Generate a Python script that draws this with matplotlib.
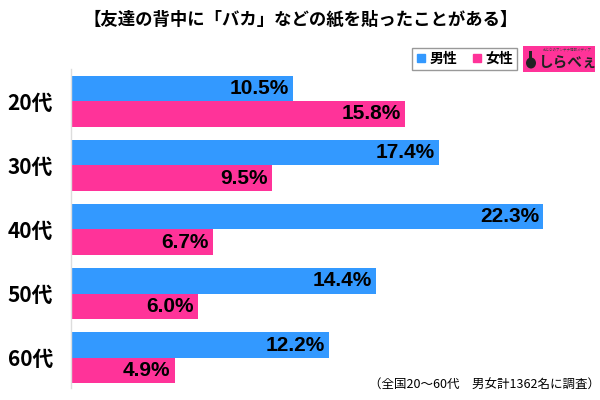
import matplotlib
matplotlib.use("Agg")
import matplotlib.pyplot as plt
from matplotlib.lines import Line2D
from matplotlib.patches import Rectangle, Ellipse
import numpy as np

plt.rcParams['font.family'] = ['Noto Sans CJK JP', 'DejaVu Sans']

categories = ['20代', '30代', '40代', '50代', '60代']
male = [10.5, 17.4, 22.3, 14.4, 12.2]
female = [15.8, 9.5, 6.7, 6.0, 4.9]
series_names = ['男性', '女性']
title = '【友達の背中に「バカ」などの紙を貼ったことがある】'
note = '（全国20～60代　男女計1362名に調査）'

BLUE = '#3399FF'
PINK = '#FF3399'

fig = plt.figure(figsize=(6, 4), dpi=100)
ax = fig.add_axes([71/600, 12/400, 520/600, 319/400])

y = np.arange(len(categories))
h = 0.397
ax.barh(y - h/2, male, height=h, color=BLUE, linewidth=0)
ax.barh(y + h/2, female, height=h, color=PINK, linewidth=0)

ax.set_xlim(0, 520/21.17)
ax.set_ylim(4.47, -0.5)
for s in ['top', 'right', 'bottom']:
    ax.spines[s].set_visible(False)
ax.spines['left'].set_color('#DDDDDD')
ax.spines['left'].set_linewidth(1)
ax.set_xticks([])
ax.set_yticks(y)
ax.set_yticklabels(categories, fontsize=15, fontweight='bold')
ax.tick_params(axis='y', length=0, pad=13)

for yi, v in zip(y, male):
    ax.annotate(f'{v:.1f}%', (v, yi - h/2), xytext=(-3, 0), textcoords='offset points',
                ha='right', va='center', fontsize=15, fontweight='bold',
                family=['Liberation Sans', 'DejaVu Sans'], color='black')
for yi, v in zip(y, female):
    ax.annotate(f'{v:.1f}%', (v, yi + h/2), xytext=(-3, 0), textcoords='offset points',
                ha='right', va='center', fontsize=15, fontweight='bold',
                family=['Liberation Sans', 'DejaVu Sans'], color='black')

fig.text(301/600, 1 - 20/400, title, ha='center', va='center', fontsize=12.5, fontweight='bold')

handles = [Line2D([], [], marker='s', linestyle='none', color=BLUE, markersize=6),
           Line2D([], [], marker='s', linestyle='none', color=PINK, markersize=6)]
leg = fig.legend(handles, series_names, loc='center', bbox_to_anchor=(464.5/600, 1 - 59/400),
                 ncol=2, frameon=True, fancybox=False, edgecolor='#999999', framealpha=1,
                 prop={'family': 'Noto Sans CJK JP', 'weight': 'bold', 'size': 10},
                 handlelength=0.8, handletextpad=0.2, columnspacing=1.0, borderpad=0.3)
leg.get_frame().set_linewidth(1)

# logo
fig.patches.append(Rectangle((523/600, 1 - 72/400), 72/600, 26/400, transform=fig.transFigure,
                             facecolor=PINK, edgecolor='none'))
fig.patches.append(Ellipse((531/600, 1 - 63/400), 10/600, 11/400, transform=fig.transFigure,
                           facecolor='#222222', edgecolor='none'))
fig.patches.append(Rectangle((529/600, 1 - 60/400), 3/600, 9/400, transform=fig.transFigure,
                             facecolor='#222222', edgecolor='none'))
fig.text(539/600, 1 - 62/400, 'しらべぇ', ha='left', va='center', fontsize=10.5,
         fontweight='bold', color='#222222')
fig.text(567/600, 1 - 50/400, 'おとなのアンテナ情報メディア', ha='center', va='center',
         fontsize=2.5, color='#444444')

fig.text(600/600, 1 - 385/400, note, ha='right', va='center', fontsize=9)

fig.savefig('out.png', dpi=100)
